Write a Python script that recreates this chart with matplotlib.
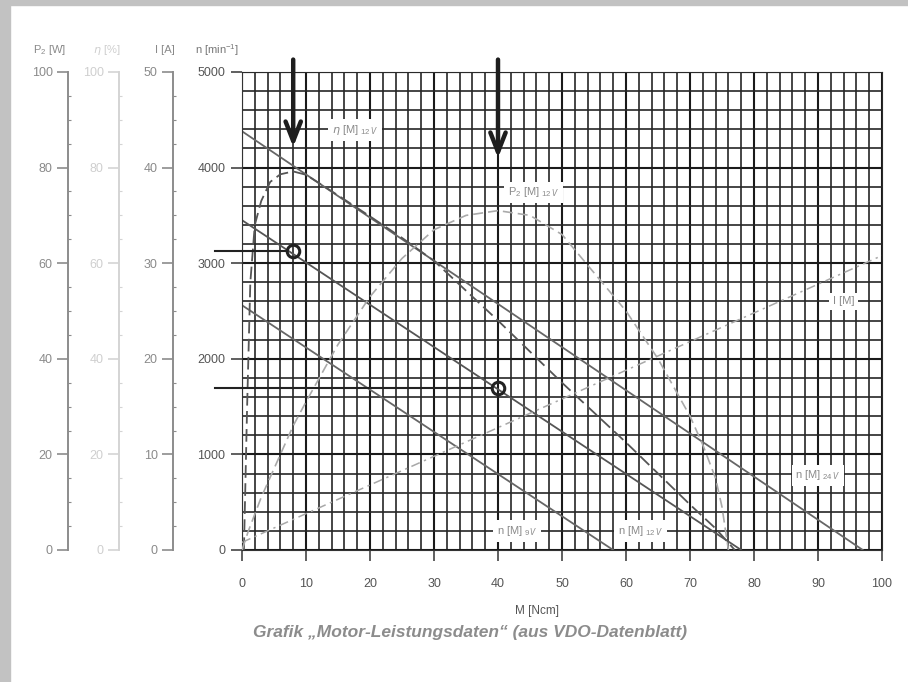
"""
Motor-Leistungsdaten (VDO datasheet) - redraw of the scanned chart
n(M) lines for 9/12/24 V, efficiency, output power and current vs torque
"""

import numpy as np
import matplotlib.pyplot as plt
from matplotlib.patches import Rectangle

plt.rcParams['font.family'] = ['Liberation Sans', 'DejaVu Sans']
plt.rcParams['mathtext.fontset'] = 'custom'
plt.rcParams['mathtext.rm'] = 'Liberation Sans'

# ── DATA ──────────────────────────────────────────────────────────────────────

# speed lines n [min^-1] over torque M [Ncm]
n24_M = [0, 97]
n24 = [4380, 0]
n12_M = [0, 78]
n12 = [3450, 0]
n9_M = [0, 58]
n9 = [2560, 0]

# efficiency at 12 V [%]
eta_M = [0.3, 0.8, 1.3, 2.0, 3.0, 4.4, 6.0, 8.0, 10, 15, 20, 25, 30, 40, 50, 60, 70, 74, 76, 77]
eta = [0, 30, 56, 68, 73, 77, 78.6, 79.2, 78.5, 74.2, 69.8, 65.3, 60.5, 48, 35, 22.5, 9.5, 4.5, 1.5, 0]

# output power at 12 V [W]
p2_M = [0, 1, 3, 5, 8, 10, 15, 20, 25, 30, 35, 40, 45, 50, 55, 60, 65, 70, 72, 74, 75, 76]
p2 = [0, 4, 11, 17, 26, 31, 43, 53, 61, 67, 70, 71, 70, 66, 58, 50, 40, 28, 22, 15, 9, 0]

# current [A]
cur_M = [0, 100]
cur = [0.8, 30.8]

# operating points marked with circles, arrows on top
op_M = [8, 40]
op_n = [3126, 1690]
arrow_M = [8, 40]
arrow_tip = [4215, 4100]

x_ticks = np.arange(0, 101, 10)
n_ticks = np.arange(0, 5001, 1000)

# ── FIGURE ────────────────────────────────────────────────────────────────────

W, H = 908, 682
fig = plt.figure(figsize=(W / 100, H / 100), dpi=100)
fig.patch.set_facecolor('white')
fig.patches.append(Rectangle((0, 0), 10 / W, 1, transform=fig.transFigure,
                             color='#c2c2c2', zorder=0))
fig.patches.append(Rectangle((0, 1 - 5 / H), 1, 5 / H, transform=fig.transFigure,
                             color='#c2c2c2', zorder=0))

pos = [242 / W, 1 - 550 / H, 640 / W, 478 / H]
ax = fig.add_axes(pos)
ax.set_xlim(0, 100)
ax.set_ylim(0, 5000)
ax.set_axisbelow(True)

ax.set_xticks(x_ticks)
ax.set_xticks(np.arange(0, 101, 2), minor=True)
ax.set_yticks(n_ticks)
ax.set_yticks(np.arange(0, 5001, 200), minor=True)
ax.grid(which='minor', color='#262626', lw=1.2)
ax.grid(which='major', color='#1a1a1a', lw=1.5)
for s in ['top', 'right']:
    ax.spines[s].set_color('#2a2a2a')
ax.spines['left'].set_color('#333333')
ax.spines['bottom'].set_color('#333333')
ax.tick_params(which='minor', length=0)
ax.tick_params(which='major', length=8, width=1.2, color='#444444',
               labelsize=9, labelcolor='#555555', pad=12)
ax.tick_params(axis='y', pad=4)
ax.set_xticklabels([str(v) for v in x_ticks])
ax.set_xlabel('M [Ncm]', fontsize=8.5, color='#555555')
ax.xaxis.set_label_coords((537 - 242) / 640, -55 / 478)

ax.plot(n24_M, n24, color='#666666', lw=1.3)
ax.plot(n12_M, n12, color='#555555', lw=1.3)
ax.plot(n9_M, n9, color='#666666', lw=1.3)


def side_axis(offset, top, step, minor, color, labelcolor):
    a = ax.twinx()
    for s in a.spines.values():
        s.set_visible(False)
    a.spines['left'].set_visible(True)
    a.spines['left'].set_position(('axes', offset))
    a.spines['left'].set_color(color)
    a.spines['left'].set_linewidth(1.4)
    a.yaxis.set_ticks_position('left')
    a.set_ylim(0, top)
    a.set_yticks(np.arange(0, top + 1, step))
    a.set_yticks(np.arange(0, top + 1, minor), minor=True)
    a.tick_params(which='major', length=8, width=1.2, color=color,
                  labelsize=9, labelcolor=labelcolor, pad=3)
    a.tick_params(which='minor', length=2.5, width=0.8, color=color, direction='in')
    return a


ax_i = side_axis((173 - 242) / 640, 50, 10, 2.5, '#8c8c8c', '#8a8a8a')
ax_eta = side_axis((119 - 242) / 640, 100, 20, 5, '#d4d4d4', '#cfcfcf')
ax_p = side_axis((68 - 242) / 640, 100, 20, 5, '#8c8c8c', '#8a8a8a')

ax_i.plot(cur_M, cur, color='#a8a8a8', lw=1.1, ls=(0, (6, 3, 1.5, 3)))
ax_eta.plot(eta_M, eta, color='#555555', lw=1.3, ls=(0, (7, 3)))
ax_p.plot(p2_M, p2, color='#aaaaaa', lw=1.2, ls=(0, (6, 3)))

# axis headers
hy = 1 - 50 / H
fig.text(50 / W, hy, 'P$_2$ [W]', ha='center', va='center', fontsize=8, color='#8a8a8a')
fig.text(107 / W, hy, '$\\eta$ [%]', ha='center', va='center', fontsize=8, color='#cfcfcf')
fig.text(165 / W, hy, 'I [A]', ha='center', va='center', fontsize=8, color='#8a8a8a')
fig.text(217 / W, hy, 'n [min$^{-1}$]', ha='center', va='center', fontsize=8, color='#777777')

# ── OVERLAY: labels, operating points, arrows ────────────────────────────────

ov = fig.add_axes(pos, frameon=False)
ov.set_xlim(0, 100)
ov.set_ylim(0, 5000)
ov.axis('off')

box = dict(boxstyle='square,pad=0.35', fc='white', ec='none')
lab = dict(fontsize=8, color='#8a8a8a', ha='center', va='center', bbox=box)
ov.text(17.7, 4390, '$\\eta$ [M]$_{\\ 12\\,V}$', **lab)
ov.text(45.5, 3740, 'P$_2$ [M]$_{\\ 12\\,V}$', **lab)
ov.text(94, 2600, 'I [M]', **lab)
ov.text(90, 780, 'n [M]$_{\\ 24\\,V}$', **lab)
ov.text(43, 200, 'n [M]$_{\\ 9\\,V}$', **lab)
ov.text(62.3, 200, 'n [M]$_{\\ 12\\,V}$', **lab)

for m, n in zip(op_M, op_n):
    ov.plot([-4.2, m - 0.9], [n, n], color='#222222', lw=1.5, clip_on=False)
ov.plot(op_M, op_n, 'o', mfc='none', mec='#222222', ms=9, mew=2.2)

for m, tip in zip(arrow_M, arrow_tip):
    ov.annotate('', xy=(m, tip), xytext=(m, 5130), annotation_clip=False,
                arrowprops=dict(arrowstyle='->,head_length=1.4,head_width=0.55',
                                color='#1e1e1e', lw=3.2, shrinkA=0, shrinkB=0))

fig.text(470 / W, 1 - 632 / H, 'Grafik \u201eMotor-Leistungsdaten\u201c (aus VDO-Datenblatt)',
         ha='center', va='center', fontsize=12.5, style='italic', weight='bold',
         color='#8c8c8c')

fig.savefig('out.png', dpi=100)
